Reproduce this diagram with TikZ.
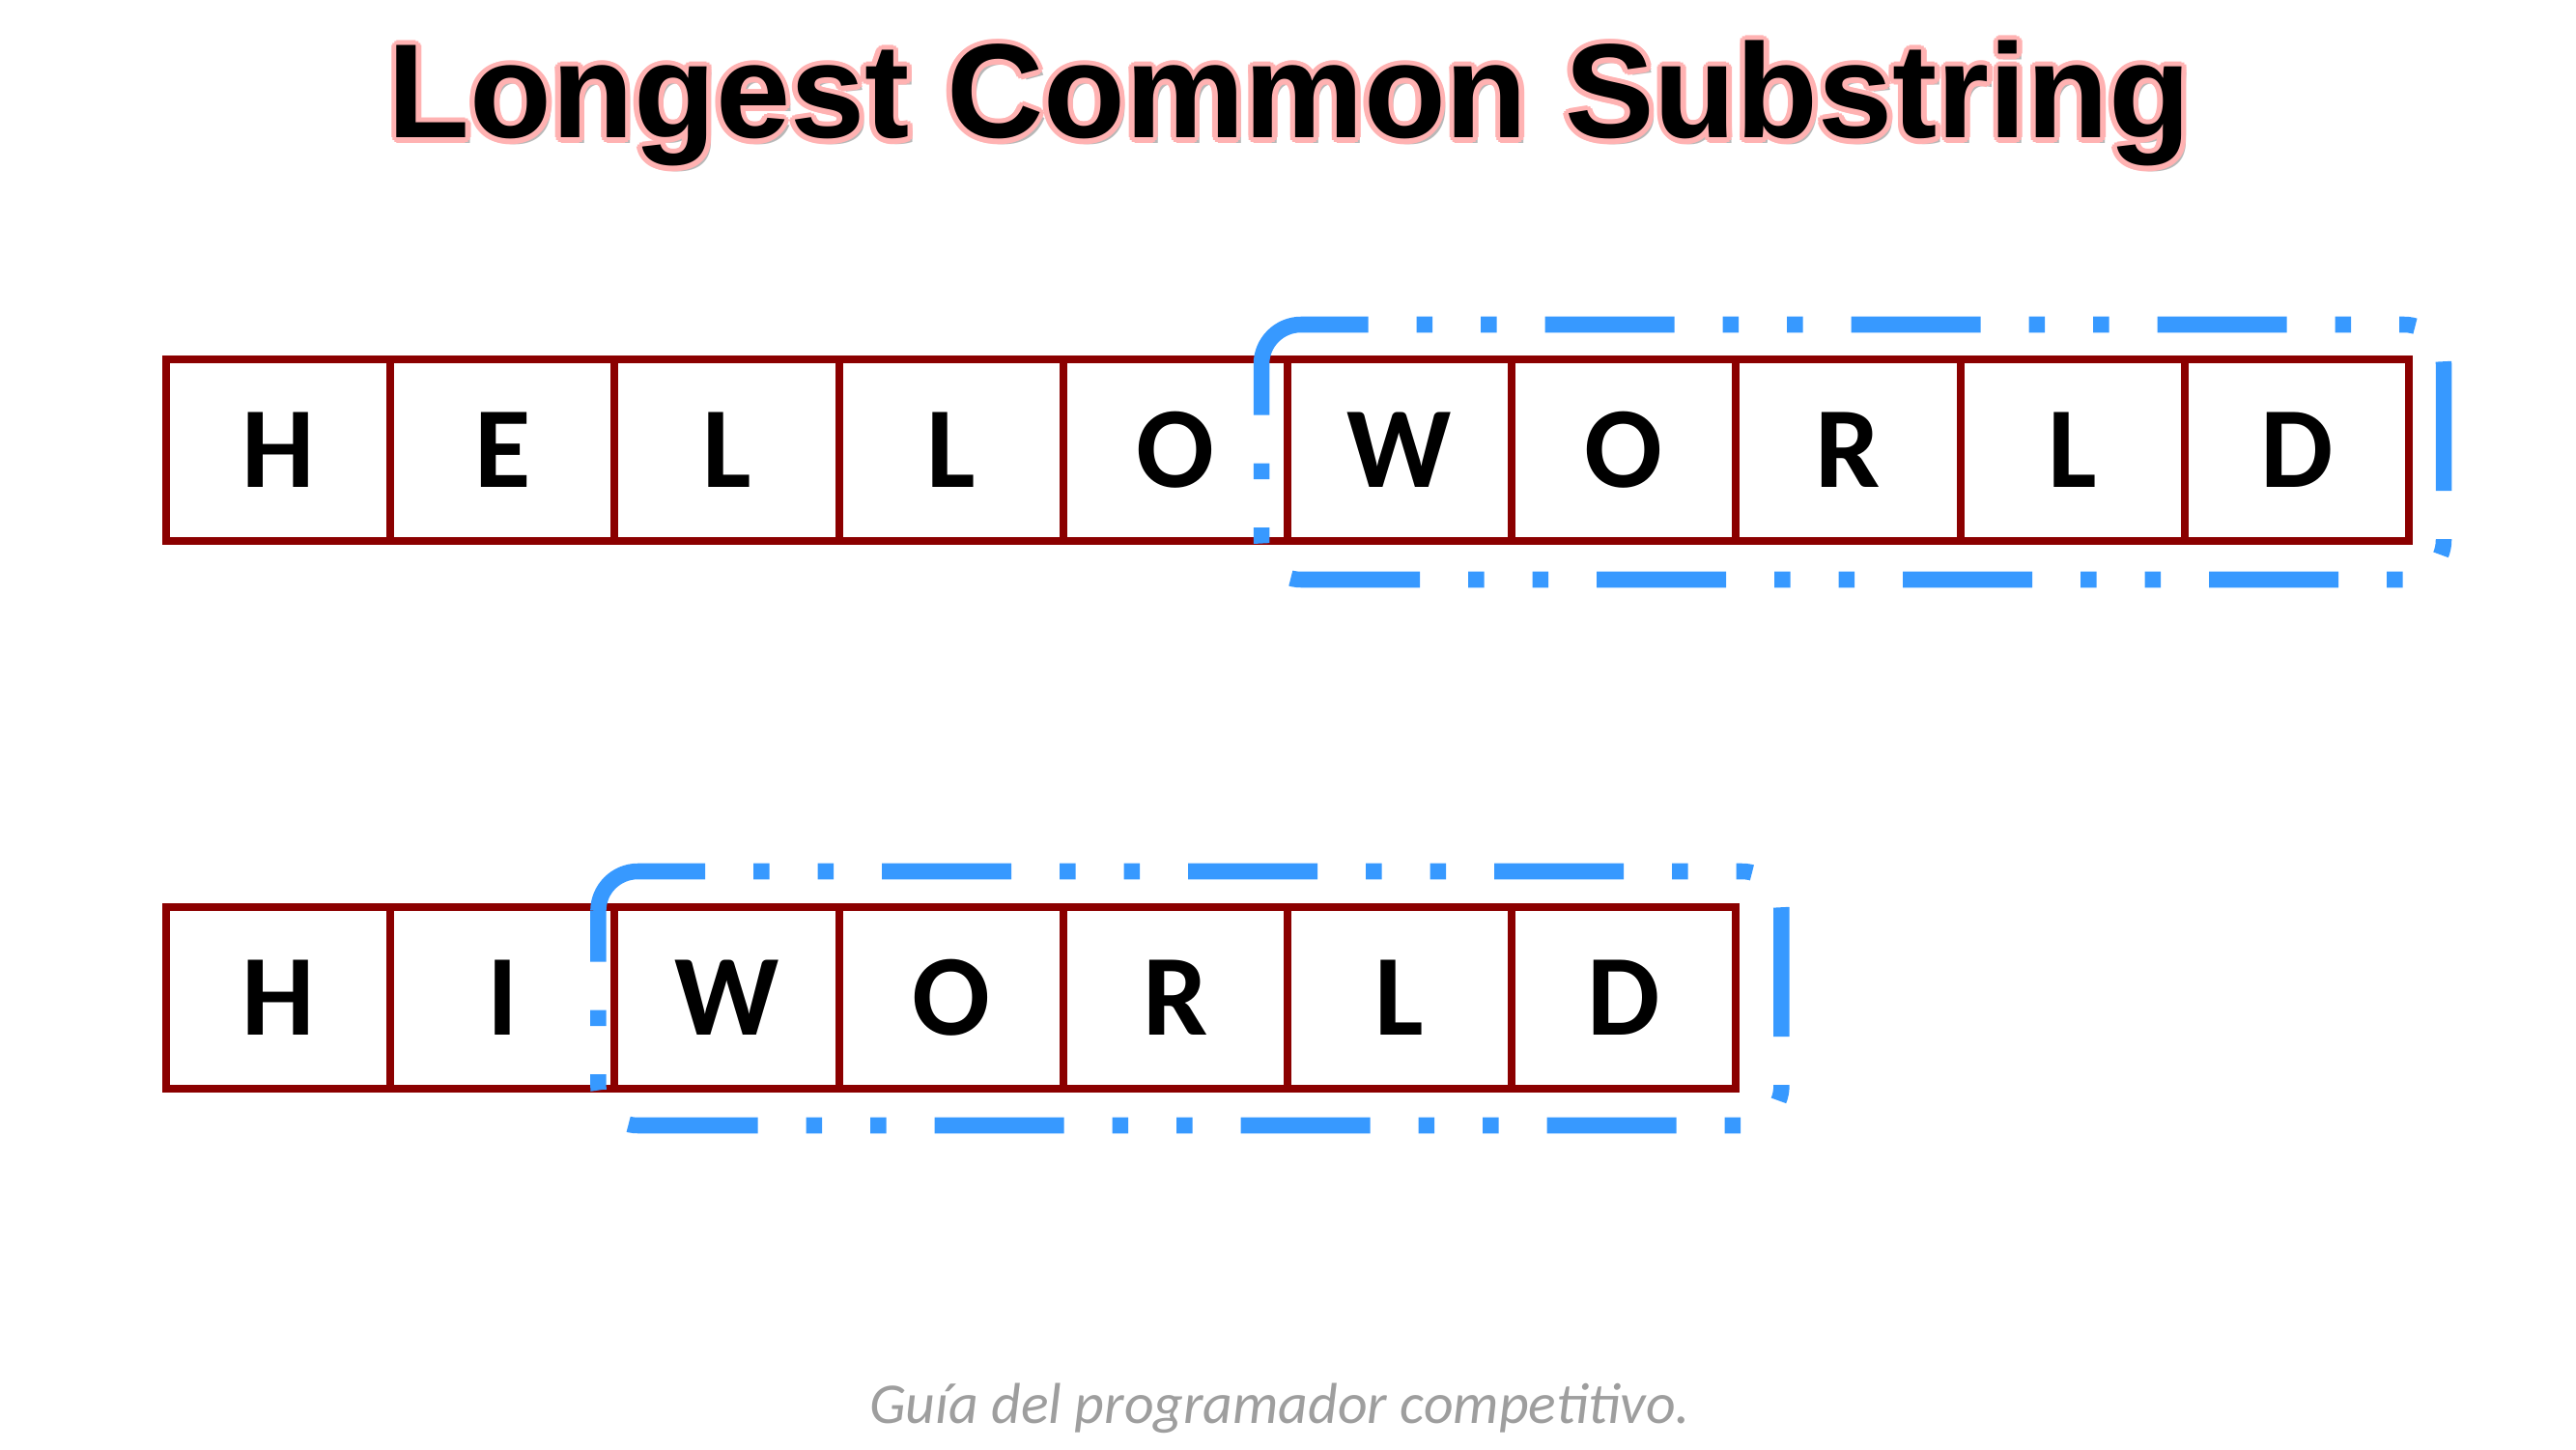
\documentclass[tikz,border=0pt]{standalone}
\usepackage{fontspec}
\setmainfont{Carlito}
\newfontfamily\titlefont{Liberation Sans}
\usetikzlibrary{positioning, calc}

\definecolor{cellred}{RGB}{139,0,0}
\definecolor{hiblue}{RGB}{55,153,255}
\definecolor{glowred}{RGB}{255,178,178}

\begin{document}
\begin{tikzpicture}[
  cell/.style={draw=cellred, line width=2.3pt, minimum width=2.322cm, minimum height=1.88cm,
               inner sep=0pt, outer sep=0pt, font=\fontsize{34}{34}\selectfont\bfseries},
  hilite/.style={draw=hiblue, line width=4.7pt, rounded corners=0.41cm,
                 dash pattern=on 1.34cm off 0.50cm on 0.165cm off 0.50cm on 0.165cm off 0.50cm},
  ttl/.style={font=\titlefont\fontsize{39.5}{39.5}\selectfont\bfseries, anchor=base},
  foot/.style={font=\fontsize{17}{17}\selectfont\itshape, text=black!38, anchor=base},
]
\useasboundingbox (0,0) rectangle (26.67,15);

% --- Title ---
\node[ttl, text=black!28] (tshadow) at (13.40,13.51) {Longest Common Substring};
\foreach \a in {0,30,...,330}
  \node[ttl, text=glowred] at ($(13.35,13.57)+(\a:0.055)$) {Longest Common Substring};
\node[ttl] (title) at (13.35,13.57) {Longest Common Substring};

% --- First string ---
\node[cell] (a1) at (2.881,10.34) {H};
\node[cell, right=0pt of a1] (a2) {E};
\node[cell, right=0pt of a2] (a3) {L};
\node[cell, right=0pt of a3] (a4) {L};
\node[cell, right=0pt of a4] (a5) {O};
\node[cell, right=0pt of a5] (a6) {W};
\node[cell, right=0pt of a6] (a7) {O};
\node[cell, right=0pt of a7] (a8) {R};
\node[cell, right=0pt of a8] (a9) {L};
\node[cell, right=0pt of a9] (a10) {D};

% --- Second string ---
\node[cell] (b1) at (2.881,4.67) {H};
\node[cell, right=0pt of b1] (b2) {I};
\node[cell, right=0pt of b2] (b3) {W};
\node[cell, right=0pt of b3] (b4) {O};
\node[cell, right=0pt of b4] (b5) {R};
\node[cell, right=0pt of b5] (b6) {L};
\node[cell, right=0pt of b6] (b7) {D};

% --- Common part ---
\draw[hilite] ($(a6.north west)+(-0.27,-0.05)$) -- ($(a6.north west)+(-0.27,0.36)$)
  -- ($(a10.north east)+(0.36,0.36)$) -- ($(a10.south east)+(0.36,-0.40)$)
  -- ($(a6.south west)+(-0.27,-0.40)$) -- ($(a6.north west)+(-0.27,-0.05)$);
\draw[hilite] ($(b3.north west)+(-0.17,-0.04)$) -- ($(b3.north west)+(-0.17,0.37)$)
  -- ($(b7.north east)+(0.47,0.37)$) -- ($(b7.south east)+(0.47,-0.38)$)
  -- ($(b3.south west)+(-0.17,-0.38)$) -- ($(b3.north west)+(-0.17,-0.04)$);

% --- Footer ---
\node[foot] (foot) at (13.25,0.27) {Guía del programador competitivo.};

\end{tikzpicture}
\end{document}
